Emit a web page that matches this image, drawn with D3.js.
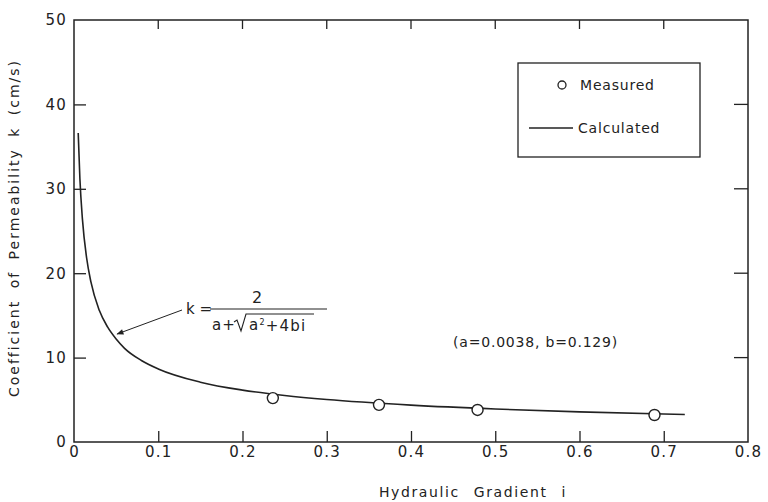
<!DOCTYPE html>
<html>
<head>
<meta charset="utf-8">
<script src="https://cdn.jsdelivr.net/npm/d3@7"></script>
<style>
  body { margin: 0; background: #fff; }
  svg text { font-family: "DejaVu Sans", sans-serif; fill: #222; }
</style>
</head>
<body>
<svg width="768" height="502"></svg>
<script>
// Data
var xTicks = [0, 0.1, 0.2, 0.3, 0.4, 0.5, 0.6, 0.7, 0.8];
var yTicks = [0, 10, 20, 30, 40, 50];

// Measured points (hydraulic gradient i, permeability k)
var measuredI = [0.236, 0.362, 0.479, 0.689];
var measuredK = [5.2, 4.4, 3.8, 3.2];

// Calculated curve, points
var curveI = [0.005, 0.007, 0.01, 0.015, 0.02, 0.03, 0.04, 0.05, 0.06, 0.08, 0.1, 0.15, 0.2, 0.25, 0.3, 0.4, 0.5, 0.6, 0.7, 0.725];
var curveK = [36.6, 31.2, 26.4, 21.8, 19.0, 15.6, 13.6, 12.2, 11.1, 9.66, 8.66, 7.09, 6.15, 5.51, 5.03, 4.37, 3.91, 3.57, 3.31, 3.25];

var svg = d3.select("svg");
var ink = "#222";

var plotLeft = 74, plotRight = 748, plotTop = 20, plotBottom = 442;

var x = d3.scaleLinear().domain([0, 0.8]).range([plotLeft, plotRight]);
var y = d3.scaleLinear().domain([0, 50]).range([plotBottom, plotTop]);

// frame
svg.append("rect")
    .attr("x", plotLeft).attr("y", plotTop)
    .attr("width", plotRight - plotLeft).attr("height", plotBottom - plotTop)
    .attr("fill", "none").attr("stroke", ink).attr("stroke-width", 1.5);

var innerX = xTicks.filter(function(d) { return d > 0 && d < 0.8; });
var innerY = yTicks.filter(function(d) { return d > 0 && d < 50; });

// bottom axis, ticks point inward
var xAxisB = svg.append("g")
    .attr("transform", "translate(0," + plotBottom + ")")
    .call(d3.axisBottom(x).tickValues(xTicks).tickSize(0)
        .tickFormat(function(d) { return d === 0 ? "0" : d.toFixed(1); }).tickPadding(4));
xAxisB.select(".domain").remove();
xAxisB.selectAll("text")
    .attr("font-size", 15).attr("letter-spacing", 1.2).attr("fill", ink);
xAxisB.selectAll(".tick")
    .filter(function(d) { return innerX.indexOf(d) >= 0; })
    .append("line").attr("y2", -11).attr("stroke", ink).attr("stroke-width", 1.3);

// top axis ticks
svg.append("g").selectAll("line")
    .data(innerX).enter().append("line")
    .attr("x1", function(d) { return x(d); }).attr("x2", function(d) { return x(d); })
    .attr("y1", plotTop).attr("y2", plotTop + 9)
    .attr("stroke", ink).attr("stroke-width", 1.3);

// left axis
var yAxisL = svg.append("g")
    .attr("transform", "translate(" + plotLeft + ",0)")
    .call(d3.axisLeft(y).tickValues(yTicks).tickSize(0).tickPadding(7));
yAxisL.select(".domain").remove();
yAxisL.selectAll("text")
    .attr("font-size", 15).attr("letter-spacing", 1.2).attr("fill", ink);
yAxisL.selectAll(".tick")
    .filter(function(d) { return innerY.indexOf(d) >= 0; })
    .append("line").attr("x2", 12).attr("stroke", ink).attr("stroke-width", 1.3);

// right axis ticks
svg.append("g").selectAll("line")
    .data(innerY).enter().append("line")
    .attr("x1", plotRight).attr("x2", plotRight - 14)
    .attr("y1", function(d) { return y(d); }).attr("y2", function(d) { return y(d); })
    .attr("stroke", ink).attr("stroke-width", 1.3);

// calculated curve
var curveData = curveI.map(function(d, i) { return [d, curveK[i]]; });
var line = d3.line()
    .x(function(d) { return x(d[0]); })
    .y(function(d) { return y(d[1]); })
    .curve(d3.curveMonotoneX);
svg.append("path")
    .datum(curveData)
    .attr("d", line)
    .attr("fill", "none").attr("stroke", ink).attr("stroke-width", 1.6);

// measured points
svg.append("g").selectAll("circle")
    .data(measuredI).enter().append("circle")
    .attr("cx", function(d) { return x(d); })
    .attr("cy", function(d, i) { return y(measuredK[i]); })
    .attr("r", 5.5)
    .attr("fill", "#fff").attr("stroke", ink).attr("stroke-width", 1.4);

// legend
var legend = svg.append("g");
legend.append("rect")
    .attr("x", 518).attr("y", 63).attr("width", 182).attr("height", 94)
    .attr("fill", "#fff").attr("stroke", ink).attr("stroke-width", 1.3);
legend.append("circle")
    .attr("cx", 562).attr("cy", 85).attr("r", 4)
    .attr("fill", "#fff").attr("stroke", ink).attr("stroke-width", 1.3);
legend.append("text")
    .attr("x", 580).attr("y", 85).attr("dy", "0.35em")
    .attr("font-size", 14).attr("letter-spacing", 0.8).text("Measured");
legend.append("line")
    .attr("x1", 529).attr("x2", 573).attr("y1", 128).attr("y2", 128)
    .attr("stroke", ink).attr("stroke-width", 1.3);
legend.append("text")
    .attr("x", 578).attr("y", 128).attr("dy", "0.35em")
    .attr("font-size", 14).attr("letter-spacing", 0.8).text("Calculated");

// parameters note
svg.append("text")
    .attr("x", 453).attr("y", 342).attr("dy", "0.35em")
    .attr("font-size", 14).attr("letter-spacing", 0.8)
    .text("(a=0.0038, b=0.129)");

// formula annotation
var f = svg.append("g");
svg.append("defs").append("marker")
    .attr("id", "arr").attr("viewBox", "0 0 10 10")
    .attr("refX", 9).attr("refY", 5)
    .attr("markerWidth", 9).attr("markerHeight", 7).attr("orient", "auto")
    .append("path").attr("d", "M0,1 L10,5 L0,9 Z").attr("fill", ink);
f.append("line")
    .attr("x1", 182).attr("y1", 310).attr("x2", x(0.05) + 1).attr("y2", 334)
    .attr("stroke", ink).attr("stroke-width", 1).attr("marker-end", "url(#arr)");
f.append("text")
    .attr("x", 186).attr("y", 309).attr("dy", "0.35em")
    .attr("font-size", 15).text("k =");
f.append("line")
    .attr("x1", 210).attr("x2", 327).attr("y1", 309).attr("y2", 309)
    .attr("stroke", ink).attr("stroke-width", 1.2);
f.append("text")
    .attr("x", 257).attr("y", 297).attr("dy", "0.35em").attr("text-anchor", "middle")
    .attr("font-size", 16).text("2");
f.append("text")
    .attr("x", 212).attr("y", 325).attr("dy", "0.35em")
    .attr("font-size", 15).attr("letter-spacing", 1).text("a+");
// radical sign
f.append("path")
    .attr("d", "M234,322 L237,320 L241,331 L246,314 L314,314")
    .attr("fill", "none").attr("stroke", ink).attr("stroke-width", 1.1);
var den = f.append("text")
    .attr("x", 249).attr("y", 325).attr("dy", "0.35em")
    .attr("font-size", 15).attr("letter-spacing", 1.2);
den.append("tspan").text("a");
den.append("tspan").attr("font-size", 8).attr("dy", "-0.6em").text("2");
den.append("tspan").attr("dy", "0.35em").text("+4bi");

// axis titles
svg.append("text")
    .attr("x", 473).attr("y", 497).attr("text-anchor", "middle")
    .attr("font-size", 14).attr("letter-spacing", 1.6).attr("word-spacing", 8)
    .text("Hydraulic Gradient  i");
svg.append("text")
    .attr("transform", "translate(14,228) rotate(-90)")
    .attr("text-anchor", "middle").attr("dy", "0.35em")
    .attr("font-size", 14).attr("letter-spacing", 2).attr("word-spacing", 5)
    .text("Coefficient of Permeability k (cm/s)");
</script>
</body>
</html>
